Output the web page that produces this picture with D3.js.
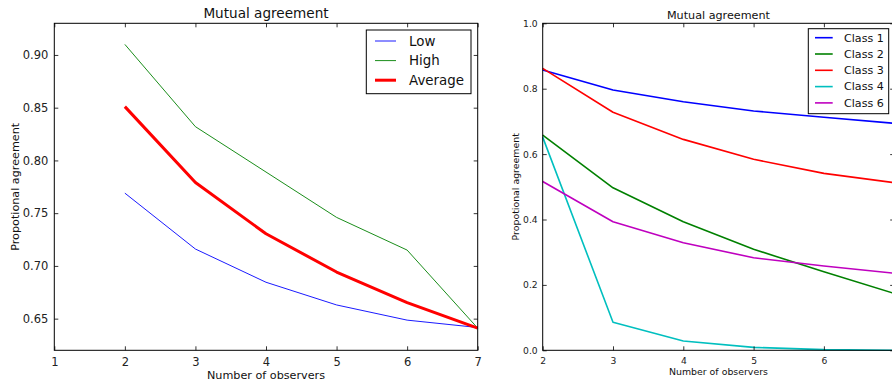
<!DOCTYPE html>
<html>
<head>
<meta charset="utf-8">
<script src="https://cdn.jsdelivr.net/npm/d3@7/dist/d3.min.js"></script>
<style>
  html, body { margin: 0; padding: 0; background: #fff; overflow: hidden; }
  svg { display: block; font-family: "DejaVu Sans", sans-serif; }
</style>
</head>
<body>
<svg id="chart" width="892" height="385"></svg>
<script>
// Number of observers on the x axis
const observers = [2, 3, 4, 5, 6, 7];

// Left panel: agreement for low / high / average groups
const lowValues = [0.769, 0.716, 0.6845, 0.663, 0.6486, 0.6416];
const highValues = [0.910, 0.832, 0.789, 0.746, 0.715, 0.641];
const averageValues = [0.851, 0.779, 0.7305, 0.6942, 0.6652, 0.641];

// Right panel: agreement per class
const class1Values = [0.857, 0.796, 0.760, 0.732, 0.7125, 0.694];
const class2Values = [0.658, 0.497, 0.393, 0.309, 0.240, 0.174];
const class3Values = [0.862, 0.728, 0.645, 0.584, 0.541, 0.5125];
const class4Values = [0.652, 0.0856, 0.0284, 0.009, 0.002, 0.000];
const class6Values = [0.516, 0.393, 0.329, 0.283, 0.258, 0.2355];

const leftXTicks = [1, 2, 3, 4, 5, 6, 7];
const leftYTicks = [0.65, 0.70, 0.75, 0.80, 0.85, 0.90];
const rightXTicks = [2, 3, 4, 5, 6, 7];
const rightYTicks = [0.0, 0.2, 0.4, 0.6, 0.8, 1.0];

const svg = d3.select("#chart");

function drawPanel(cfg) {
  const { x0, x1, y0, y1 } = cfg.box;
  const x = d3.scaleLinear().domain(cfg.xDomain).range([x0, x1]);
  const y = d3.scaleLinear().domain(cfg.yDomain).range([y1, y0]);
  const g = svg.append("g");

  // series
  const line = d3.line().x((d, i) => x(observers[i])).y(d => y(d));
  cfg.series.forEach(s => {
    g.append("path")
      .datum(s.values)
      .attr("fill", "none")
      .attr("stroke", s.color)
      .attr("stroke-width", s.width)
      .attr("stroke-linejoin", "round")
      .attr("d", line);
  });

  const tickLen = 4;
  // ticks point inwards on all four sides
  const bottom = g.append("g").attr("transform", `translate(0,${y1})`)
    .call(d3.axisBottom(x).tickValues(cfg.xTicks).tickSizeInner(-tickLen).tickSizeOuter(0).tickPadding(cfg.xPad).tickFormat(cfg.xFmt));
  const top = g.append("g").attr("transform", `translate(0,${y0})`)
    .call(d3.axisTop(x).tickValues(cfg.xTicks).tickSizeInner(-tickLen).tickSizeOuter(0).tickFormat(""));
  const left = g.append("g").attr("transform", `translate(${x0},0)`)
    .call(d3.axisLeft(y).tickValues(cfg.yTicks).tickSizeInner(-tickLen).tickSizeOuter(0).tickPadding(cfg.yPad).tickFormat(cfg.yFmt));
  const right = g.append("g").attr("transform", `translate(${x1},0)`)
    .call(d3.axisRight(y).tickValues(cfg.yTicks).tickSizeInner(-tickLen).tickSizeOuter(0).tickFormat(""));
  [bottom, top, left, right].forEach(a => {
    a.select(".domain").remove();
    a.selectAll(".tick line").attr("stroke", "#000").attr("stroke-width", 0.8);
    a.selectAll("text").attr("fill", "#222").style("font-size", cfg.tickFont + "px")
      .style("font-family", "DejaVu Sans, sans-serif");
  });

  // frame
  g.append("rect")
    .attr("x", x0).attr("y", y0)
    .attr("width", x1 - x0).attr("height", y1 - y0)
    .attr("fill", "none").attr("stroke", "#000").attr("stroke-width", 1);

  // title and axis labels
  g.append("text")
    .attr("x", (x0 + x1) / 2).attr("y", cfg.titleY)
    .attr("text-anchor", "middle")
    .style("font-size", cfg.titleFont + "px")
    .attr("fill", "#111")
    .text("Mutual agreement");
  g.append("text")
    .attr("x", (x0 + x1) / 2).attr("y", cfg.xLabelY)
    .attr("text-anchor", "middle")
    .style("font-size", cfg.labelFont + "px")
    .attr("fill", "#111")
    .text("Number of observers");
  g.append("text")
    .attr("transform", `translate(${cfg.yLabelX},${(y0 + y1) / 2}) rotate(-90)`)
    .attr("text-anchor", "middle")
    .style("font-size", cfg.labelFont + "px")
    .attr("fill", "#111")
    .text("Propotional agreement");

  // legend
  const L = cfg.legend;
  const lg = g.append("g");
  lg.append("rect")
    .attr("x", L.x).attr("y", L.y).attr("width", L.w).attr("height", L.h)
    .attr("fill", "#fff").attr("stroke", "#000").attr("stroke-width", 1);
  cfg.series.forEach((s, i) => {
    const cy = L.firstY + i * L.step;
    lg.append("line")
      .attr("x1", L.lineX0).attr("x2", L.lineX1)
      .attr("y1", cy).attr("y2", cy)
      .attr("stroke", s.color).attr("stroke-width", s.width);
    lg.append("text")
      .attr("x", L.textX).attr("y", cy).attr("dy", "0.35em")
      .style("font-size", L.font + "px")
      .attr("fill", "#111")
      .text(s.name);
  });
}

drawPanel({
  box: { x0: 54.3, x1: 477.7, y0: 23.3, y1: 350.3 },
  xDomain: [1, 7],
  yDomain: [0.62, 0.93],
  xTicks: leftXTicks,
  yTicks: leftYTicks,
  xFmt: d3.format("d"),
  yFmt: d3.format(".2f"),
  xPad: 8,
  yPad: 6,
  tickFont: 11.5,
  titleFont: 13.6,
  labelFont: 11.2,
  titleY: 18,
  xLabelY: 379,
  yLabelX: 19,
  series: [
    { name: "Low", values: lowValues, color: "#0000ff", width: 0.9 },
    { name: "High", values: highValues, color: "#008000", width: 0.9 },
    { name: "Average", values: averageValues, color: "#ff0000", width: 3 }
  ],
  legend: { x: 366.3, y: 30, w: 104.7, h: 63.7, firstY: 41, step: 19.6,
            lineX0: 375, lineX1: 396, textX: 409, font: 13.4 }
});

drawPanel({
  box: { x0: 542.7, x1: 894.2, y0: 23.3, y1: 350.3 },
  xDomain: [2, 7],
  yDomain: [0, 1],
  xTicks: rightXTicks,
  yTicks: rightYTicks,
  xFmt: d3.format("d"),
  yFmt: d3.format(".1f"),
  xPad: 7,
  yPad: 5,
  tickFont: 9.2,
  titleFont: 11.2,
  labelFont: 9.4,
  titleY: 19,
  xLabelY: 375,
  yLabelX: 519,
  series: [
    { name: "Class 1", values: class1Values, color: "#0000ff", width: 1.6 },
    { name: "Class 2", values: class2Values, color: "#008000", width: 1.6 },
    { name: "Class 3", values: class3Values, color: "#ff0000", width: 1.6 },
    { name: "Class 4", values: class4Values, color: "#00bfbf", width: 1.6 },
    { name: "Class 6", values: class6Values, color: "#bf00bf", width: 1.6 }
  ],
  legend: { x: 808.3, y: 28.7, w: 80.4, h: 85, firstY: 37.7, step: 16.3,
            lineX0: 815, lineX1: 832.7, textX: 844, font: 11.1 }
});
</script>
</body>
</html>
